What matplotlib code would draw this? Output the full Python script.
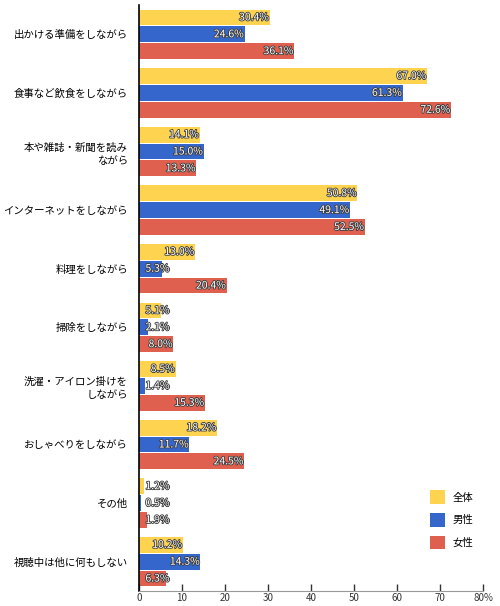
import matplotlib
matplotlib.use('Agg')
import matplotlib.pyplot as plt
import matplotlib.patheffects as pe
import numpy as np

plt.rcParams['font.family'] = ['Noto Sans CJK JP', 'DejaVu Sans']

categories = ['出かける準備をしながら', '食事など飲食をしながら', '本や雑誌・新聞を読み\nながら',
              'インターネットをしながら', '料理をしながら', '掃除をしながら',
              '洗濯・アイロン掛けを\nしながら', 'おしゃべりをしながら', 'その他', '視聴中は他に何もしない']
total = [30.4, 67.0, 14.1, 50.8, 13.0, 5.1, 8.5, 18.2, 1.2, 10.2]
male = [24.6, 61.3, 15.0, 49.1, 5.3, 2.1, 1.4, 11.7, 0.5, 14.3]
female = [36.1, 72.6, 13.3, 52.5, 20.4, 8.0, 15.3, 24.5, 1.9, 6.3]
series = ['全体', '男性', '女性']
colors = ['#fdd34f', '#3466cc', '#e0604f']
xticks = [0, 10, 20, 30, 40, 50, 60, 70, 80]

fig = plt.figure(figsize=(5, 6.06), dpi=100)
ax = fig.add_axes([139/500, 15/606, 344/500, 586/606])

y = np.arange(len(categories))
h = 0.27
step = 0.288
outline = [pe.withStroke(linewidth=1.2, foreground='#3a3a3a')]
for i, (vals, c) in enumerate(zip([total, male, female], colors)):
    pos = y + (i - 1) * step
    ax.barh(pos, vals, height=h, color=c, label=series[i])
    for p, v in zip(pos, vals):
        if v >= 7:
            ax.text(v - 0.2, p, f'{v:.1f}%', ha='right', va='center', fontsize=7.5,
                    color='white', path_effects=outline)
        else:
            ax.text(1.5, p, f'{v:.1f}%', ha='left', va='center', fontsize=7.5,
                    color='white', path_effects=outline)

ax.set_ylim(len(categories) - 0.5, -0.5)
ax.set_xlim(0, 80)
ax.set_yticks(y)
ax.set_yticklabels(categories, fontsize=7.5, linespacing=1.4)
ax.tick_params(axis='y', length=0, pad=8)
ax.set_xticks(xticks)
ax.set_xticklabels([str(t) for t in xticks[:-1]] + ['80%'], fontsize=7, color='#333333')
ax.tick_params(axis='x', direction='in', length=5, width=1, color='#333333', pad=1.5)
for s in ['top', 'right']:
    ax.spines[s].set_visible(False)
ax.spines['left'].set_color('black')
ax.spines['left'].set_linewidth(1.2)
ax.spines['bottom'].set_color('#999999')

leg = ax.legend(loc='lower right', bbox_to_anchor=(1.0, 0.055), frameon=False, fontsize=7.5,
                handlelength=1.4, handleheight=1.6, labelspacing=0.9)

fig.savefig('out.png', dpi=100)
